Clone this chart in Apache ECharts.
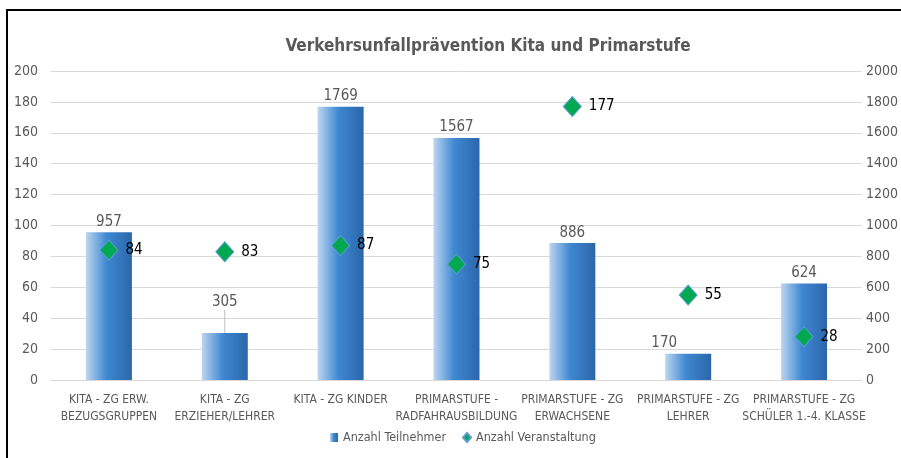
<!DOCTYPE html>
<html lang="de">
<head>
    <meta charset="utf-8">
    <title>Verkehrsunfallprävention Kita und Primarstufe</title>
    <style>
        html,body,#myChart{
            height: 100%;
            width: 100%;
            padding: 0;
            margin: 0;
            background: #fff;
        }
    </style>
</head>
<body>
    <div id="myChart"></div>
    <script src="https://cdn.jsdelivr.net/npm/echarts@6/dist/echarts.min.js"></script>
    <script>
        // Daten
        var categories = [
            'KITA - ZG ERW.\nBEZUGSGRUPPEN',
            'KITA - ZG\nERZIEHER/LEHRER',
            'KITA - ZG KINDER',
            'PRIMARSTUFE -\nRADFAHRAUSBILDUNG',
            'PRIMARSTUFE - ZG\nERWACHSENE',
            'PRIMARSTUFE - ZG\nLEHRER',
            'PRIMARSTUFE - ZG\nSCHÜLER 1.-4. KLASSE'
        ];
        var teilnehmer = [957, 305, 1769, 1567, 886, 170, 624];
        var veranstaltung = [84, 83, 87, 75, 177, 55, 28];
        var leftTicks = { min: 0, max: 200, interval: 20 };
        var rightTicks = { min: 0, max: 2000, interval: 200 };

        var font = '"Liberation Sans Narrow", "DejaVu Sans Condensed", sans-serif';
        var grey = '#595959';

        var chart = echarts.init(document.getElementById('myChart'));

        var barColor = new echarts.graphic.LinearGradient(0, 0, 1, 0, [
            { offset: 0, color: '#bcd6ef' },
            { offset: 0.45, color: '#3f88d2' },
            { offset: 1, color: '#2b66aa' }
        ]);

        // nur das Label "305" bekommt eine Führungslinie (wie im Excel-Original)
        var barData = teilnehmer.map(function (v, i) {
            return { value: v, labelLine: { show: i === 1 } };
        });

        chart.setOption({
            animation: false,
            textStyle: { fontFamily: font },
            title: {
                text: 'Verkehrsunfallprävention Kita und Primarstufe',
                left: 483,
                top: 33,
                textAlign: 'center',
                textStyle: { fontFamily: font, fontSize: 17, fontWeight: 'bold', color: grey }
            },
            // Rahmen (links und oben sichtbar)
            graphic: [{
                type: 'line',
                shape: { x1: 7, y1: 9, x2: 7, y2: 1000 },
                style: { stroke: '#000', lineWidth: 2 },
                silent: true
            }, {
                type: 'line',
                shape: { x1: 6, y1: 10, x2: 1000, y2: 10 },
                style: { stroke: '#000', lineWidth: 2 },
                silent: true
            }],
            legend: {
                bottom: 9,
                left: 325,
                itemWidth: 8,
                itemHeight: 9,
                itemGap: 16,
                textStyle: { fontFamily: font, fontSize: 12.5, color: grey },
                data: [
                    { name: 'Anzahl Teilnehmer', icon: 'rect' },
                    { name: 'Anzahl Veranstaltung', icon: 'diamond' }
                ]
            },
            grid: { left: 51, right: 37, top: 71, bottom: 78 },
            xAxis: {
                type: 'category',
                data: categories,
                axisLine: { lineStyle: { color: '#d9d9d9' } },
                axisTick: { show: false },
                axisLabel: { interval: 0, color: grey, fontSize: 12, lineHeight: 17, margin: 11, fontFamily: font }
            },
            yAxis: [{
                type: 'value',
                min: leftTicks.min, max: leftTicks.max, interval: leftTicks.interval,
                axisLine: { show: false },
                axisTick: { show: false },
                axisLabel: { color: grey, fontSize: 14, margin: 13, fontFamily: font },
                splitLine: { lineStyle: { color: '#d9d9d9' } }
            }, {
                type: 'value',
                min: rightTicks.min, max: rightTicks.max, interval: rightTicks.interval,
                axisLine: { show: false },
                axisTick: { show: false },
                axisLabel: {
                    color: grey, fontSize: 14, margin: 4, fontFamily: font,
                    formatter: function (v) { return String(v); }
                },
                splitLine: { show: false }
            }],
            series: [{
                name: 'Anzahl Teilnehmer',
                type: 'bar',
                yAxisIndex: 1,
                barWidth: 46,
                data: barData,
                itemStyle: { color: barColor },
                label: {
                    show: true, position: 'top', distance: 3,
                    color: grey, fontSize: 15, fontFamily: font
                },
                labelLine: { lineStyle: { color: '#bfbfbf', width: 1 } },
                labelLayout: function (p) {
                    if (p.dataIndex === 1) return { dy: -20 };
                    if (p.dataIndex === 5) return { dx: -24 };
                    return {};
                }
            }, {
                name: 'Anzahl Veranstaltung',
                type: 'scatter',
                yAxisIndex: 0,
                symbol: 'diamond',
                symbolSize: [18, 20],
                data: veranstaltung,
                itemStyle: { color: '#00a84f', borderColor: '#5b9bd5', borderWidth: 1, opacity: 1 },
                label: {
                    show: true, position: 'right', distance: 7,
                    color: '#000', fontSize: 15, fontFamily: font
                },
                z: 5
            }]
        });
    </script>
</body>
</html>
